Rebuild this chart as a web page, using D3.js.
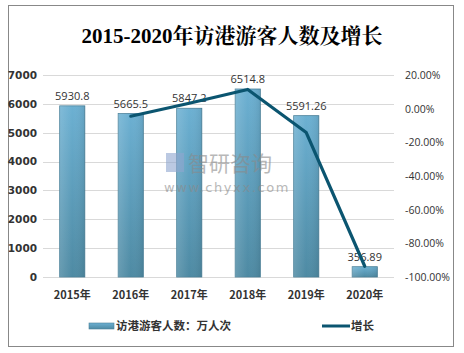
<!DOCTYPE html>
<html>
<head>
<meta charset="utf-8">
<script src="https://cdn.jsdelivr.net/npm/d3@7"></script>
<style>
  body { margin: 0; background: #fff; }
  svg { display: block; }
</style>
</head>
<body>
<div id="chart"></div>
<script>
const years = ["2015年", "2016年", "2017年", "2018年", "2019年", "2020年"];
const visitors = [5930.8, 5665.5, 5847.2, 6514.8, 5591.26, 356.89];
const visitorLabels = ["5930.8", "5665.5", "5847.2", "6514.8", "5591.26", "356.89"];
// growth, percent (no value for 2015)
const growth = [null, -4.47, 3.21, 11.42, -14.18, -93.62];
const leftTicks = [0, 1000, 2000, 3000, 4000, 5000, 6000, 7000];
const rightTicks = [20, 0, -20, -40, -60, -80, -100];

const width = 464;
const height = 353;
const plot = { left: 43, right: 394, top: 75, bottom: 277 };

const svg = d3.select("#chart")
    .append("svg")
    .attr("width", width)
    .attr("height", height);

const defs = svg.append("defs");
const grad = defs.append("linearGradient")
    .attr("id", "barGrad")
    .attr("x1", 0).attr("y1", 0).attr("x2", 0).attr("y2", 1);
grad.append("stop").attr("offset", "0%").attr("stop-color", "#6cb0d2");
grad.append("stop").attr("offset", "100%").attr("stop-color", "#4e8aa3");

const hgrad = defs.append("linearGradient")
    .attr("id", "barGradH")
    .attr("x1", 0).attr("y1", 0).attr("x2", 1).attr("y2", 0);
hgrad.append("stop").attr("offset", "0%").attr("stop-color", "#ffffff").attr("stop-opacity", 0.15);
hgrad.append("stop").attr("offset", "50%").attr("stop-color", "#ffffff").attr("stop-opacity", 0);
hgrad.append("stop").attr("offset", "100%").attr("stop-color", "#000000").attr("stop-opacity", 0.08);

// border
svg.append("rect")
    .attr("x", 8.5).attr("y", 5.5)
    .attr("width", 445).attr("height", 341)
    .attr("fill", "#fff")
    .attr("stroke", "#888")
    .attr("stroke-width", 1);

// title
svg.append("text")
    .attr("x", 232)
    .attr("y", 43)
    .attr("text-anchor", "middle")
    .style("font-family", "'Liberation Serif', 'Noto Serif CJK SC', 'Noto Sans CJK SC', serif")
    .style("font-size", "21px")
    .style("font-weight", "bold")
    .attr("fill", "#000")
    .text("2015-2020年访港游客人数及增长");

const x = d3.scaleBand()
    .domain(years)
    .range([plot.left, plot.right])
    .paddingInner(0.57)
    .paddingOuter(0.285);

const y = d3.scaleLinear()
    .domain([0, 7000])
    .range([plot.bottom, plot.top]);

const y2 = d3.scaleLinear()
    .domain([-100, 20])
    .range([plot.bottom, plot.top]);

// gridlines
svg.append("g")
    .selectAll("line")
    .data(leftTicks)
    .join("line")
    .attr("x1", plot.left)
    .attr("x2", plot.right)
    .attr("y1", d => Math.round(y(d)) + 0.5)
    .attr("y2", d => Math.round(y(d)) + 0.5)
    .attr("stroke", "#d9d9d9")
    .attr("stroke-width", 1);

// left axis
const leftAxis = svg.append("g")
    .attr("transform", "translate(" + plot.left + ",0)")
    .call(d3.axisLeft(y).tickValues(leftTicks).tickSize(0).tickPadding(6)
        .tickFormat(d3.format("d")));
leftAxis.select(".domain").remove();
leftAxis.selectAll("text")
    .style("font-family", "'DejaVu Sans', sans-serif")
    .style("font-size", "10.5px")
    .style("font-weight", "bold")
    .attr("fill", "#333");

// right axis
const rightAxis = svg.append("g")
    .attr("transform", "translate(" + (plot.right + 6) + ",0)")
    .call(d3.axisRight(y2).tickValues(rightTicks).tickSize(0).tickPadding(5)
        .tickFormat(d => d.toFixed(2) + "%"));
rightAxis.select(".domain").remove();
rightAxis.selectAll("text")
    .style("font-family", "'Open Sans', 'Noto Sans', sans-serif")
    .style("font-size", "10.5px")
    .attr("fill", "#333");

// x axis labels
const xAxis = svg.append("g")
    .attr("transform", "translate(0," + plot.bottom + ")")
    .call(d3.axisBottom(x).tickSize(0).tickPadding(14));
xAxis.select(".domain").remove();
xAxis.selectAll("text")
    .style("font-family", "'Noto Sans CJK SC', sans-serif")
    .style("font-size", "11px")
    .style("font-weight", "bold")
    .attr("fill", "#333");

// bars
const bars = svg.append("g");
bars.selectAll("rect.bar")
    .data(visitors)
    .join("rect")
    .attr("class", "bar")
    .attr("x", (d, i) => x(years[i]))
    .attr("y", d => y(d))
    .attr("width", x.bandwidth())
    .attr("height", d => y(0) - y(d))
    .attr("fill", "url(#barGrad)")
    .attr("stroke", "#4a8099")
    .attr("stroke-width", 0.8);
bars.selectAll("rect.shine")
    .data(visitors)
    .join("rect")
    .attr("class", "shine")
    .attr("x", (d, i) => x(years[i]))
    .attr("y", d => y(d))
    .attr("width", x.bandwidth())
    .attr("height", d => y(0) - y(d))
    .attr("fill", "url(#barGradH)");

// bar labels
svg.append("g")
    .selectAll("text")
    .data(visitors)
    .join("text")
    .attr("x", (d, i) => x(years[i]) + x.bandwidth() / 2)
    .attr("y", d => y(d) - 6)
    .attr("text-anchor", "middle")
    .style("font-family", "'Open Sans', 'Noto Sans', sans-serif")
    .style("font-size", "11px")
    .attr("fill", "#333")
    .text((d, i) => visitorLabels[i]);

// watermark
const wm = svg.append("g").attr("opacity", 0.6);
wm.append("rect")
    .attr("x", 166).attr("y", 153)
    .attr("width", 18).attr("height", 19)
    .attr("fill", "#8fa6cf");
wm.append("text")
    .attr("x", 188).attr("y", 171)
    .style("font-family", "'Noto Sans CJK SC', sans-serif")
    .style("font-size", "21px")
    .attr("fill", "#8a8a8a")
    .text("智研咨询");
wm.append("text")
    .attr("x", 164).attr("y", 192)
    .style("font-family", "'DejaVu Sans', sans-serif")
    .style("font-size", "13px")
    .style("letter-spacing", "1.6px")
    .attr("fill", "#8a8a8a")
    .text("www.chyxx.com");

// growth line
const cx = d => x(d) + x.bandwidth() / 2;
const lineData = years.map((yr, i) => ({ yr: yr, g: growth[i] })).filter(d => d.g !== null);
svg.append("path")
    .datum(lineData)
    .attr("fill", "none")
    .attr("stroke", "#0b5570")
    .attr("stroke-width", 3.2)
    .attr("stroke-linejoin", "round")
    .attr("stroke-linecap", "round")
    .attr("d", d3.line()
        .x(d => cx(d.yr))
        .y(d => y2(d.g))
    );

// legend
const legend = svg.append("g");
legend.append("rect")
    .attr("x", 89).attr("y", 323)
    .attr("width", 25).attr("height", 6)
    .attr("fill", "url(#barGrad)")
    .attr("stroke", "#4a8099")
    .attr("stroke-width", 0.6);
legend.append("text")
    .attr("x", 116).attr("y", 330)
    .style("font-family", "'Noto Sans CJK SC', sans-serif")
    .style("font-size", "11.5px")
    .style("font-weight", "bold")
    .attr("fill", "#333")
    .text("访港游客人数：万人次");
legend.append("line")
    .attr("x1", 322).attr("x2", 350)
    .attr("y1", 326).attr("y2", 326)
    .attr("stroke", "#0b5570")
    .attr("stroke-width", 3);
legend.append("text")
    .attr("x", 351).attr("y", 330)
    .style("font-family", "'Noto Sans CJK SC', sans-serif")
    .style("font-size", "11.5px")
    .style("font-weight", "bold")
    .attr("fill", "#333")
    .text("增长");
</script>
</body>
</html>
